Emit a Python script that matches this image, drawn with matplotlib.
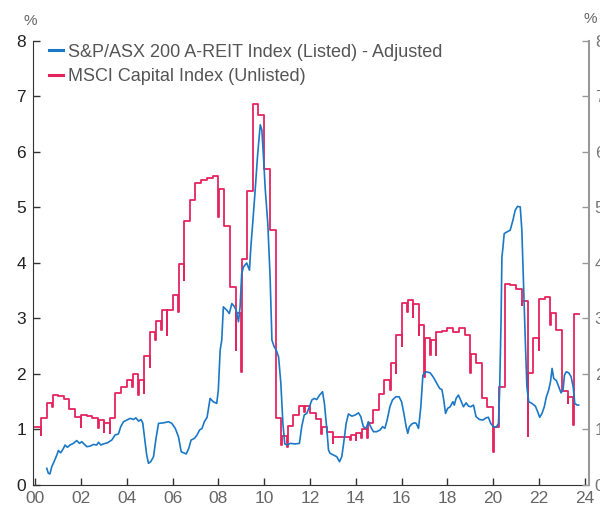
import numpy as np
import matplotlib
matplotlib.use("Agg")
import matplotlib.pyplot as plt

plt.rcParams['font.family'] = ['Liberation Sans', 'DejaVu Sans']

# MSCI Capital Index (Unlisted): quarterly levels from 2000Q1
msci_start = 2000.0
msci_q = [1.05, 1.20, 1.48, 1.62, 1.60, 1.55, 1.37, 1.22, 1.27, 1.24,
          1.20, 1.17, 1.12, 1.20, 1.65, 1.76, 1.90, 2.00, 1.89, 2.33,
          2.76, 2.96, 3.15, 3.15, 3.42, 3.98, 4.76, 5.14, 5.44, 5.50,
          5.54, 5.57, 5.33, 4.67, 3.57, 3.10, 4.08, 5.29, 6.86, 6.67,
          5.69, 4.59, 1.20, 0.88, 1.06, 1.26, 1.42, 1.42, 1.30, 1.18,
          1.05, 0.96, 0.87, 0.87, 0.86, 0.90, 0.94, 1.00, 1.12, 1.35,
          1.64, 1.89, 2.20, 2.71, 3.28, 3.33, 3.26, 2.88, 2.64, 2.62,
          2.75, 2.78, 2.82, 2.75, 2.82, 2.70, 2.36, 2.19, 1.56, 1.40,
          1.05, 1.76, 3.62, 3.60, 3.53, 3.32, 2.02, 2.64, 3.36, 3.39,
          3.10, 2.80, 1.70, 1.59, 3.08]
# short dips at the start of some quarters (quarter index: value)
msci_dips = {1: 0.90, 3: 1.40, 8: 1.05, 11: 1.02, 12: 0.96, 13: 0.94,
             17: 1.76, 18: 1.62, 19: 1.65, 20: 2.13, 21: 2.61, 22: 2.79,
             23: 2.70, 25: 3.12, 26: 3.69, 32: 4.83, 35: 2.43, 36: 2.04,
             43: 0.72, 44: 0.69, 47: 1.32, 50: 0.92, 52: 0.75, 55: 0.81,
             56: 0.81, 57: 0.84, 58: 0.84, 62: 1.72, 63: 2.02, 64: 2.50,
             65: 3.12, 66: 3.03, 67: 2.70, 68: 1.95, 69: 2.34, 70: 2.34,
             76: 2.01, 80: 0.60, 85: 3.24, 86: 0.88, 88: 2.43, 90: 2.88,
             93: 1.47, 94: 1.08}

# S&P/ASX 200 A-REIT Index (Listed) - Adjusted
reit_t = [2000.51, 2000.58, 2000.65, 2000.73, 2000.83, 2000.95, 2001.02, 2001.12, 2001.24, 2001.31,
          2001.41, 2001.53, 2001.67, 2001.82, 2001.94, 2002.04, 2002.14, 2002.26, 2002.40, 2002.55,
          2002.69, 2002.77, 2002.87, 2002.98, 2003.16, 2003.35, 2003.49, 2003.64, 2003.74, 2003.86,
          2004.00, 2004.15, 2004.30, 2004.40, 2004.52, 2004.62, 2004.70, 2004.78, 2004.87, 2004.95,
          2005.05, 2005.17, 2005.28, 2005.39, 2005.61, 2005.83, 2005.97, 2006.12, 2006.26, 2006.38,
          2006.48, 2006.60, 2006.71, 2006.81, 2006.96, 2007.07, 2007.18, 2007.29, 2007.39, 2007.51,
          2007.64, 2007.78, 2007.93, 2008.00, 2008.08, 2008.15, 2008.22, 2008.37, 2008.48, 2008.59,
          2008.69, 2008.78, 2008.88, 2008.95, 2009.02, 2009.10, 2009.24, 2009.36, 2009.42, 2009.50,
          2009.61, 2009.71, 2009.83, 2009.90, 2009.97, 2010.05, 2010.16, 2010.26, 2010.34, 2010.44,
          2010.53, 2010.63, 2010.73, 2010.82, 2010.90, 2011.00, 2011.14, 2011.35, 2011.54, 2011.64,
          2011.75, 2011.86, 2011.98, 2012.08, 2012.18, 2012.30, 2012.42, 2012.55, 2012.63, 2012.74,
          2012.81, 2012.88, 2013.03, 2013.17, 2013.29, 2013.39, 2013.47, 2013.58, 2013.68, 2013.83,
          2013.97, 2014.12, 2014.22, 2014.33, 2014.45, 2014.55, 2014.65, 2014.77, 2014.91, 2015.06,
          2015.17, 2015.27, 2015.37, 2015.49, 2015.60, 2015.75, 2015.89, 2016.00, 2016.10, 2016.20,
          2016.27, 2016.34, 2016.45, 2016.55, 2016.64, 2016.74, 2016.84, 2016.93, 2017.07, 2017.25,
          2017.39, 2017.54, 2017.66, 2017.76, 2017.83, 2017.92, 2018.01, 2018.12, 2018.24, 2018.30,
          2018.38, 2018.48, 2018.59, 2018.70, 2018.82, 2018.92, 2019.02, 2019.14, 2019.25, 2019.40,
          2019.55, 2019.69, 2019.79, 2019.89, 2020.01, 2020.13, 2020.23, 2020.28, 2020.34, 2020.38,
          2020.42, 2020.48, 2020.60, 2020.74, 2020.86, 2020.96, 2021.06, 2021.18, 2021.25, 2021.33,
          2021.40, 2021.47, 2021.55, 2021.69, 2021.84, 2021.94, 2022.03, 2022.13, 2022.23, 2022.32,
          2022.42, 2022.50, 2022.57, 2022.64, 2022.76, 2022.86, 2022.96, 2023.05, 2023.11, 2023.19,
          2023.30, 2023.40, 2023.49, 2023.56, 2023.66, 2023.73]
reit_v = [0.30, 0.21, 0.20, 0.33, 0.42, 0.54, 0.62, 0.58, 0.66, 0.72,
          0.68, 0.72, 0.75, 0.80, 0.75, 0.78, 0.74, 0.69, 0.70, 0.73,
          0.72, 0.77, 0.72, 0.74, 0.76, 0.81, 0.90, 0.92, 1.05, 1.14,
          1.17, 1.20, 1.18, 1.21, 1.15, 1.18, 1.12, 0.85, 0.55, 0.39,
          0.42, 0.51, 0.84, 1.11, 1.12, 1.14, 1.11, 1.02, 0.87, 0.60,
          0.58, 0.56, 0.66, 0.81, 0.84, 0.90, 0.99, 1.02, 1.14, 1.22,
          1.56, 1.50, 1.47, 1.71, 2.43, 2.61, 3.21, 3.15, 3.09, 3.27,
          3.22, 3.15, 2.94, 3.21, 3.81, 3.93, 4.00, 3.87, 4.29, 4.71,
          5.32, 5.92, 6.49, 6.40, 5.92, 5.32, 4.71, 3.75, 2.61, 2.49,
          2.43, 2.31, 1.83, 1.10, 0.74, 0.72, 0.75, 0.74, 0.75, 1.05,
          1.26, 1.29, 1.41, 1.53, 1.56, 1.54, 1.62, 1.68, 1.47, 0.99,
          0.63, 0.57, 0.54, 0.51, 0.42, 0.51, 0.75, 1.11, 1.28, 1.24,
          1.26, 1.30, 1.23, 1.05, 1.02, 1.14, 1.05, 0.96, 0.96, 0.99,
          1.05, 1.02, 1.17, 1.41, 1.53, 1.59, 1.59, 1.50, 1.29, 1.05,
          0.93, 1.05, 1.10, 1.12, 1.11, 1.02, 1.41, 1.98, 2.04, 2.02,
          1.94, 1.83, 1.74, 1.72, 1.56, 1.29, 1.38, 1.41, 1.50, 1.44,
          1.56, 1.62, 1.52, 1.41, 1.48, 1.42, 1.41, 1.44, 1.23, 1.18,
          1.17, 1.21, 1.22, 1.11, 1.05, 1.04, 1.11, 1.71, 2.91, 4.11,
          4.26, 4.53, 4.56, 4.59, 4.77, 4.95, 5.02, 5.01, 4.59, 3.51,
          2.61, 1.77, 1.50, 1.47, 1.42, 1.32, 1.22, 1.29, 1.41, 1.59,
          1.71, 1.86, 2.10, 1.92, 1.88, 1.77, 1.66, 1.72, 1.98, 2.04,
          2.02, 1.95, 1.77, 1.47, 1.44, 1.44]

xticks = list(range(2000, 2025, 2))
xlabels = ['%02d' % (y % 100) for y in xticks]

blue = '#1b78c6'
red = '#e5245e'

# build step path for MSCI with the short dips
mx, my = [], []
for k, v in enumerate(msci_q):
    t = msci_start + 0.25 * k
    if k in msci_dips:
        mx += [t, t + 0.02]
        my += [msci_dips[k], v]
    else:
        mx.append(t)
        my.append(v)
mx.append(msci_start + 0.25 * len(msci_q))
my.append(msci_q[-1])

fig = plt.figure(figsize=(6.0, 5.08), dpi=100)
ax = fig.add_axes([0.055, 0.0453, 0.927, 0.8740])

ax.plot(reit_t, reit_v, color=blue, lw=1.2,
        label='S&P/ASX 200 A-REIT Index (Listed) - Adjusted', zorder=3)
ax.plot(mx, my, color=red, lw=1.3, drawstyle='steps-post',
        label='MSCI Capital Index (Unlisted)', zorder=2)

ax.set_xlim(1999.91, 2024.19)
ax.set_ylim(0, 8)
ax.set_xticks(xticks)
ax.set_xticklabels(xlabels)
ax.set_yticks(range(0, 9))

ax.spines['top'].set_visible(False)
ax.spines['right'].set_visible(False)
ax.spines['left'].set_color('#333333')
ax.spines['bottom'].set_color('#333333')
ax.tick_params(axis='y', direction='in', length=5, width=1, colors='#333333',
               labelsize=12.5, pad=5, labelcolor='#222222')
ax.tick_params(axis='x', direction='in', length=5, width=1, colors='#333333',
               labelsize=12.5, pad=4, labelcolor='#666666')

ax2 = ax.twinx()
ax2.set_ylim(0, 8)
ax2.set_yticks(range(0, 9))
for s in ['top', 'left', 'bottom']:
    ax2.spines[s].set_visible(False)
ax2.spines['right'].set_color('#999999')
ax2.spines['right'].set_linewidth(1.5)
ax2.tick_params(axis='y', direction='in', length=5, width=1, colors='#999999',
                labelsize=12.5, pad=4, labelcolor='#777777')

leg = ax.legend(loc='upper left', bbox_to_anchor=(0.015, 1.01), frameon=False,
                handlelength=0.8, handletextpad=0.3, labelspacing=0.42,
                fontsize=13, borderaxespad=0)
for txt in leg.get_texts():
    txt.set_color('#555555')
for ln in leg.get_lines():
    ln.set_linewidth(2.2)

fig.text(0.05, 0.958, '%', fontsize=11, color='#666666', ha='center', va='center')
fig.text(0.983, 0.962, '%', fontsize=11, color='#666666', ha='center', va='center')

fig.savefig('out.png', dpi=100)
